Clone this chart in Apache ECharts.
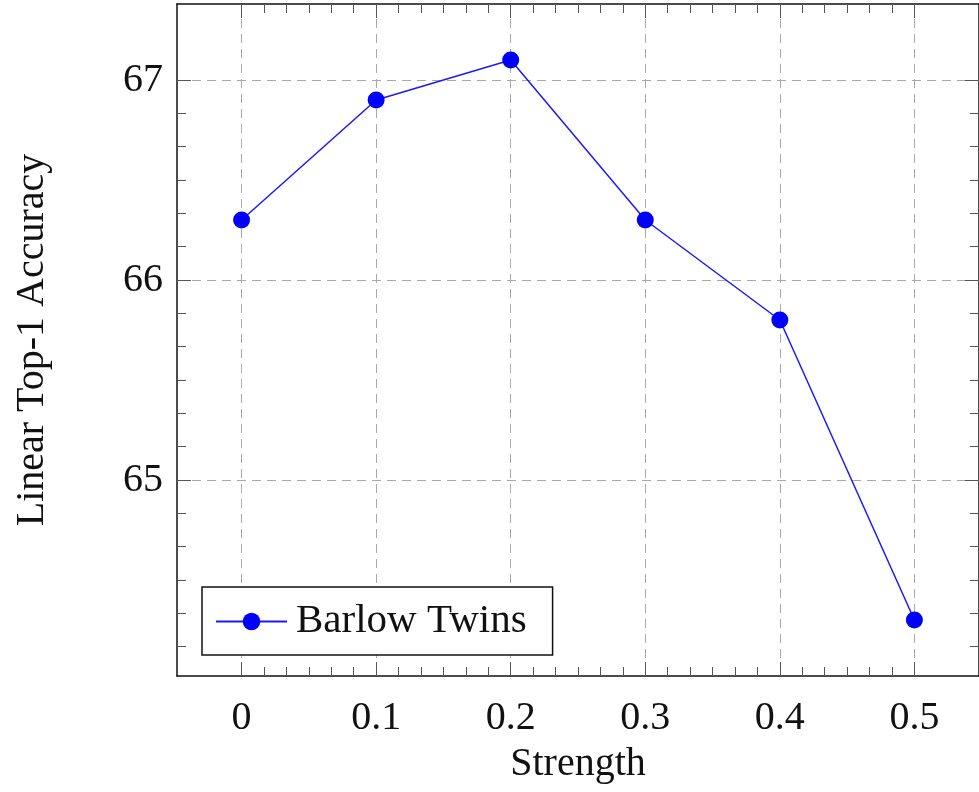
<!DOCTYPE html>
<html>
<head>
<meta charset="utf-8">
<script src="https://cdn.jsdelivr.net/npm/echarts@6/dist/echarts.min.js"></script>
<style>html,body{margin:0;padding:0;background:#fff;}#c{width:979px;height:792px;}</style>
</head>
<body>
<div id="c"></div>
<script>
// ---- data ----
const strength = [0, 0.1, 0.2, 0.3, 0.4, 0.5];
const barlowTwins = [66.3, 66.9, 67.1, 66.3, 65.8, 64.3];
const xTicks = [0, 0.1, 0.2, 0.3, 0.4, 0.5];
const xTickLabels = ['0', '0.1', '0.2', '0.3', '0.4', '0.5'];
const yTicks = [65, 66, 67];
const yTickLabels = ['65', '66', '67'];
const seriesName = 'Barlow Twins';

// minor tick positions (6 subdivisions between majors)
const xMinor = [];
for (let i = 0; i < xTicks.length - 1; i++) for (let k = 1; k < 6; k++) xMinor.push(+(xTicks[i] + k * 0.1 / 6).toFixed(5));
const yMinor = [];
[64, 65, 66].forEach(b => { for (let k = 1; k < 6; k++) yMinor.push(+(b + k / 6).toFixed(5)); });

const FONT = '"Liberation Serif", "DejaVu Serif", serif';
const XMIN = -0.048, XMAX = 0.548, YMIN = 64.02, YMAX = 67.38;
const gridLine = { show: true, lineStyle: { color: '#a8a8a8', type: [9, 6], width: 1 } };
const axLine = { show: true, onZero: false, lineStyle: { color: '#111', width: 1.5 } };
const noLine = { show: false, onZero: false };
const majTick = (vals) => ({ show: true, inside: true, length: 14, customValues: vals, lineStyle: { color: '#555', width: 1 } });
const minTick = (vals) => ({ show: true, inside: true, length: 9, customValues: vals, lineStyle: { color: '#555', width: 1 } });

const chart = echarts.init(document.getElementById('c'), null, { renderer: 'canvas' });
chart.setOption({
  animation: false,
  backgroundColor: '#fff',
  grid: { left: 177, right: -4, top: 4, bottom: 116, containLabel: false },
  xAxis: [
    { type: 'value', position: 'bottom', min: XMIN, max: XMAX, axisLine: axLine,
      axisTick: majTick(xTicks),
      axisLabel: { show: true, customValues: xTicks, margin: 22, fontFamily: FONT, fontSize: 40, color: '#111',
        formatter: v => xTickLabels[xTicks.findIndex(t => Math.abs(t - v) < 1e-6)] },
      splitLine: gridLine,
      name: 'Strength', nameLocation: 'middle', nameGap: 68,
      nameTextStyle: { fontFamily: FONT, fontSize: 40, color: '#111' } },
    { type: 'value', position: 'top', min: XMIN, max: XMAX, axisLine: axLine,
      axisTick: majTick(xTicks), axisLabel: { show: false }, splitLine: { show: false } },
    { type: 'value', position: 'bottom', offset: 0, min: XMIN, max: XMAX, axisLine: noLine,
      axisTick: minTick(xMinor), axisLabel: { show: false }, splitLine: { show: false } },
    { type: 'value', position: 'top', offset: 0, min: XMIN, max: XMAX, axisLine: noLine,
      axisTick: minTick(xMinor), axisLabel: { show: false }, splitLine: { show: false } }
  ],
  yAxis: [
    { type: 'value', position: 'left', min: YMIN, max: YMAX, axisLine: axLine,
      axisTick: majTick(yTicks),
      axisLabel: { show: true, customValues: yTicks, margin: 14, fontFamily: FONT, fontSize: 40, color: '#111',
        formatter: v => yTickLabels[yTicks.findIndex(t => Math.abs(t - v) < 1e-6)] },
      splitLine: gridLine,
      name: 'Linear Top-1 Accuracy', nameLocation: 'middle', nameGap: 125,
      nameTextStyle: { fontFamily: FONT, fontSize: 40, color: '#111' } },
    { type: 'value', position: 'right', min: YMIN, max: YMAX, axisLine: axLine,
      axisTick: majTick(yTicks), axisLabel: { show: false }, splitLine: { show: false } },
    { type: 'value', position: 'left', offset: 0, min: YMIN, max: YMAX, axisLine: noLine,
      axisTick: minTick(yMinor), axisLabel: { show: false }, splitLine: { show: false } },
    { type: 'value', position: 'right', offset: 0, min: YMIN, max: YMAX, axisLine: noLine,
      axisTick: minTick(yMinor), axisLabel: { show: false }, splitLine: { show: false } }
  ],
  legend: {
    show: true, left: 202, top: 587, orient: 'horizontal',
    backgroundColor: '#fff', borderColor: '#111', borderWidth: 1.5, borderRadius: 0,
    padding: [14, 26, 13, 13], itemWidth: 71, itemHeight: 22, itemGap: 10,
    textStyle: { fontFamily: FONT, fontSize: 41, color: '#111', padding: [0, 0, 0, 4] },
    data: [seriesName]
  },
  series: [{
    name: seriesName, type: 'line', xAxisIndex: 0, yAxisIndex: 0,
    data: strength.map((s, i) => [s, barlowTwins[i]]),
    symbol: 'circle', symbolSize: 17, showSymbol: true,
    lineStyle: { color: '#1a1aff', width: 1.5 },
    itemStyle: { color: '#0000ff' }, z: 10
  }]
});
</script>
</body>
</html>
